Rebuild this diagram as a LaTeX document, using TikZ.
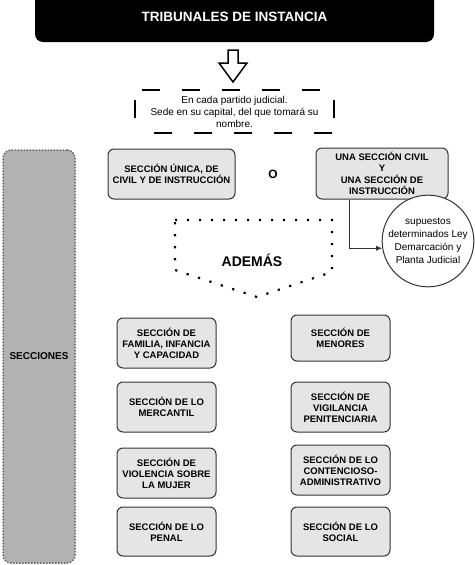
\documentclass[tikz,border=0pt]{standalone}
\usepackage{fontspec}
\setmainfont{Liberation Sans}
\usetikzlibrary{positioning, arrows.meta}

\begin{document}
\begin{tikzpicture}[x = 1pt, y = -1pt,
        caja/.style = {rectangle, rounded corners = 6pt, fill = black!10, draw = black!80, line width = 1pt, align = center, inner sep = 1pt, font = \bfseries\fontsize{9.5}{11}\selectfont},
        guiones/.style = {line width = 2pt, dash pattern = on 18pt off 22pt},
        conector/.style = {-{Latex[length = 6pt, width = 5pt]}, line width = .8pt, black!80}]
    \useasboundingbox (0, 0) rectangle (474, 565);

    % cabecera
    \node[rectangle, rounded corners = 8pt, fill = black, text = white, minimum width = 399pt, minimum height = 50pt, font = \bfseries\fontsize{13.5}{16}\selectfont] (tribunales) at (234.5, 17) {TRIBUNALES DE INSTANCIA};
    \draw[line width = 1.5pt, fill = white] (228, 50) -- (238, 50) -- (238, 63) -- (247, 63) -- (233, 82) -- (219, 63) -- (228, 63) -- cycle;
    \node[rectangle, minimum width = 199pt, minimum height = 43pt, align = center, font = \fontsize{10}{12}\selectfont] (sede) at (234.5, 111.5) {En cada partido judicial.\\Sede en su capital, del que tomará su\\nombre.};
    \draw[guiones, dash phase = 33pt] (sede.north west) -- (sede.north east);
    \draw[guiones, dash phase = 21pt] (sede.south west) -- (sede.south east);
    \draw[guiones, dash phase = 30pt] (sede.north west) -- (sede.south west);
    \draw[guiones, dash phase = 30pt] (sede.north east) -- (sede.south east);

    % dos opciones
    \node[caja, minimum width = 127pt, minimum height = 50pt] (unica) at (171.5, 174) {SECCIÓN ÚNICA, DE\\CIVIL Y DE INSTRUCCIÓN};
    \node[font = \bfseries\fontsize{12}{14}\selectfont] (o) at (273, 174) {O};
    \node[caja, minimum width = 132pt, minimum height = 51pt, font = \bfseries\fontsize{9.5}{11.5}\selectfont] (civil) at (382, 173.5) {UNA SECCIÓN CIVIL\\Y\\UNA SECCIÓN DE\\INSTRUCCIÓN};
    \node[circle, draw = black!80, fill = white, line width = 1pt, minimum size = 86pt, inner sep = 0pt, align = center, font = \fontsize{10}{13}\selectfont] (supuestos) at (428, 241) {supuestos\\determinados Ley\\Demarcación y\\Planta Judicial};
    \draw[conector] ([xshift = -33pt]civil.south) |- (supuestos.189);

    % secciones
    \node[rectangle, rounded corners = 8pt, fill = black!30, draw = black!60, line width = 1.5pt, dash pattern = on 1.5pt off 1.5pt, minimum width = 72pt, minimum height = 413pt, font = \bfseries\fontsize{10}{12}\selectfont] (secciones) at (39, 356.5) {SECCIONES};

    \node[font = \bfseries\fontsize{14}{16}\selectfont] (ademas) at (252, 260) {ADEMÁS};
    \draw[line width = 2.2pt, dash pattern = on 2.2pt off 9.8pt] (175, 220) -- (332, 220) -- (332, 272) -- (257, 297) -- (175, 270) -- cycle;

    \foreach \nombre/\y/\alto/\texto in {familia/343/50/{SECCIÓN DE\\FAMILIA, INFANCIA\\Y CAPACIDAD}, mercantil/407/50/{SECCIÓN DE LO\\MERCANTIL}, violencia/473/50/{SECCIÓN DE\\VIOLENCIA SOBRE\\LA MUJER}, penal/531.5/49/{SECCIÓN DE LO\\PENAL}}
        {
            \node[caja, minimum width = 99pt, minimum height = \alto pt] (\nombre) at (166.5, \y) {\texto};
        }
    \foreach \nombre/\y/\alto/\texto in {menores/338/46/{SECCIÓN DE\\MENORES}, vigilancia/407/50/{SECCIÓN DE\\VIGILANCIA\\PENITENCIARIA}, contencioso/470/50/{SECCIÓN DE LO\\CONTENCIOSO-\\ADMINISTRATIVO}, social/531.5/49/{SECCIÓN DE LO\\SOCIAL}}
        {
            \node[caja, minimum width = 99pt, minimum height = \alto pt] (\nombre) at (340.5, \y) {\texto};
        }
\end{tikzpicture}
\end{document}
